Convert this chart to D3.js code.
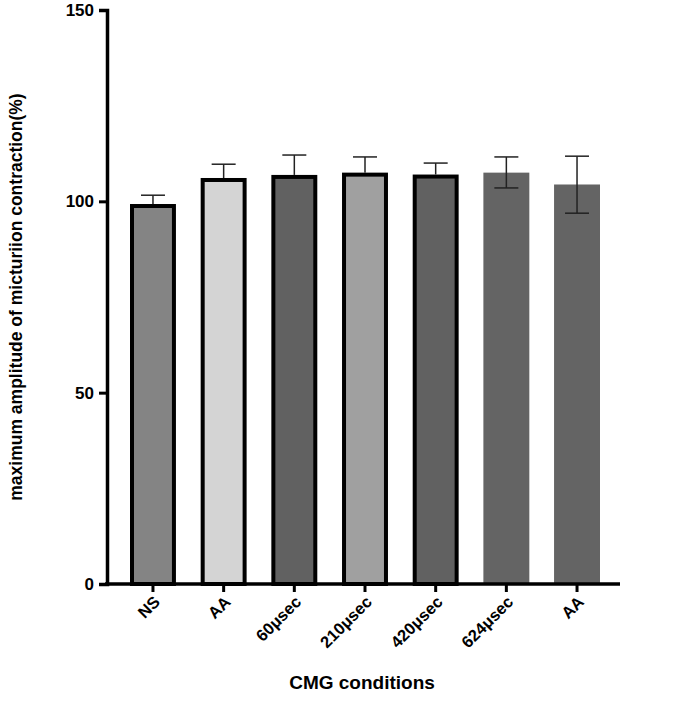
<!DOCTYPE html><html><head><script src="https://cdn.jsdelivr.net/npm/d3@7"></script>
<style>body{margin:0;background:#fff}text{font-family:Arial,"Liberation Sans",sans-serif;font-weight:bold}</style></head><body>
<svg id="c" width="685" height="720"></svg>
<script>
const categories=["NS","AA","60μsec","210μsec","420μsec","624μsec","AA"];
const values=[99.3,106.1,106.9,107.5,107.0,107.5,104.4];
const errUp=[101.6,109.7,112.1,111.6,110.0,111.6,111.8];
const errLow=[null,null,null,null,null,103.5,96.9];
const fills=["#848484","#d4d4d4","#616161","#a0a0a0","#616161","#646464","#646464"];
const bordered=[true,true,true,true,true,false,false];
const yTicks=[0,50,100,150];
const svg=d3.select("#c");
const y=d3.scaleLinear().domain([0,150]).range([584,10]);
const x=d3.scaleBand().domain(d3.range(7)).range([130,600]).paddingInner(0.35).paddingOuter(0.0);
const g=svg.append("g");
const idx=d3.range(7);
g.selectAll("rect.b").data(idx).join("rect")
 .attr("x",i=>x(i)+(bordered[i]?2:0)).attr("y",i=>y(values[i])+(bordered[i]?2:0))
 .attr("width",i=>x.bandwidth()-(bordered[i]?4:0)).attr("height",i=>y(0)-y(values[i])-(bordered[i]?2:0))
 .attr("fill",i=>fills[i]).attr("stroke",i=>bordered[i]?"#000":"none").attr("stroke-width",4);
idx.forEach(i=>{
 const cx=x(i)+x.bandwidth()/2;
 const lo=errLow[i]==null?values[i]:errLow[i];
 g.append("line").attr("x1",cx).attr("x2",cx).attr("y1",y(errUp[i])).attr("y2",y(lo)).attr("stroke","#222").attr("stroke-width",1.5);
 g.append("line").attr("x1",cx-12).attr("x2",cx+12).attr("y1",y(errUp[i])).attr("y2",y(errUp[i])).attr("stroke","#222").attr("stroke-width",1.5);
 if(errLow[i]!=null) g.append("line").attr("x1",cx-12).attr("x2",cx+12).attr("y1",y(lo)).attr("y2",y(lo)).attr("stroke","#222").attr("stroke-width",1.5);
});
const ya=svg.append("g").attr("transform","translate(107,0)").call(d3.axisLeft(y).tickValues(yTicks).tickSize(8));
ya.select(".domain").attr("stroke-width",3.5);
ya.selectAll(".tick line").attr("stroke-width",3);
ya.selectAll("text").attr("font-size",17).attr("fill","#000").attr("dx",-2);
svg.append("line").attr("x1",105).attr("x2",620).attr("y1",584).attr("y2",584).attr("stroke","#000").attr("stroke-width",3.5);
idx.forEach(i=>{
 const cx=x(i)+x.bandwidth()/2;
 svg.append("line").attr("x1",cx).attr("x2",cx).attr("y1",584).attr("y2",592).attr("stroke","#000").attr("stroke-width",3);
 svg.append("text").attr("transform",`translate(${cx+8},${603}) rotate(-45)`).attr("text-anchor","end").attr("font-size",16.5).text(categories[i]);
});
svg.append("text").attr("transform","translate(22,297) rotate(-90)").attr("text-anchor","middle").attr("font-size",17.5).text("maximum amplitude of micturiion contraction(%)");
svg.append("text").attr("x",362).attr("y",689).attr("text-anchor","middle").attr("font-size",19).text("CMG conditions");
</script></body></html>
